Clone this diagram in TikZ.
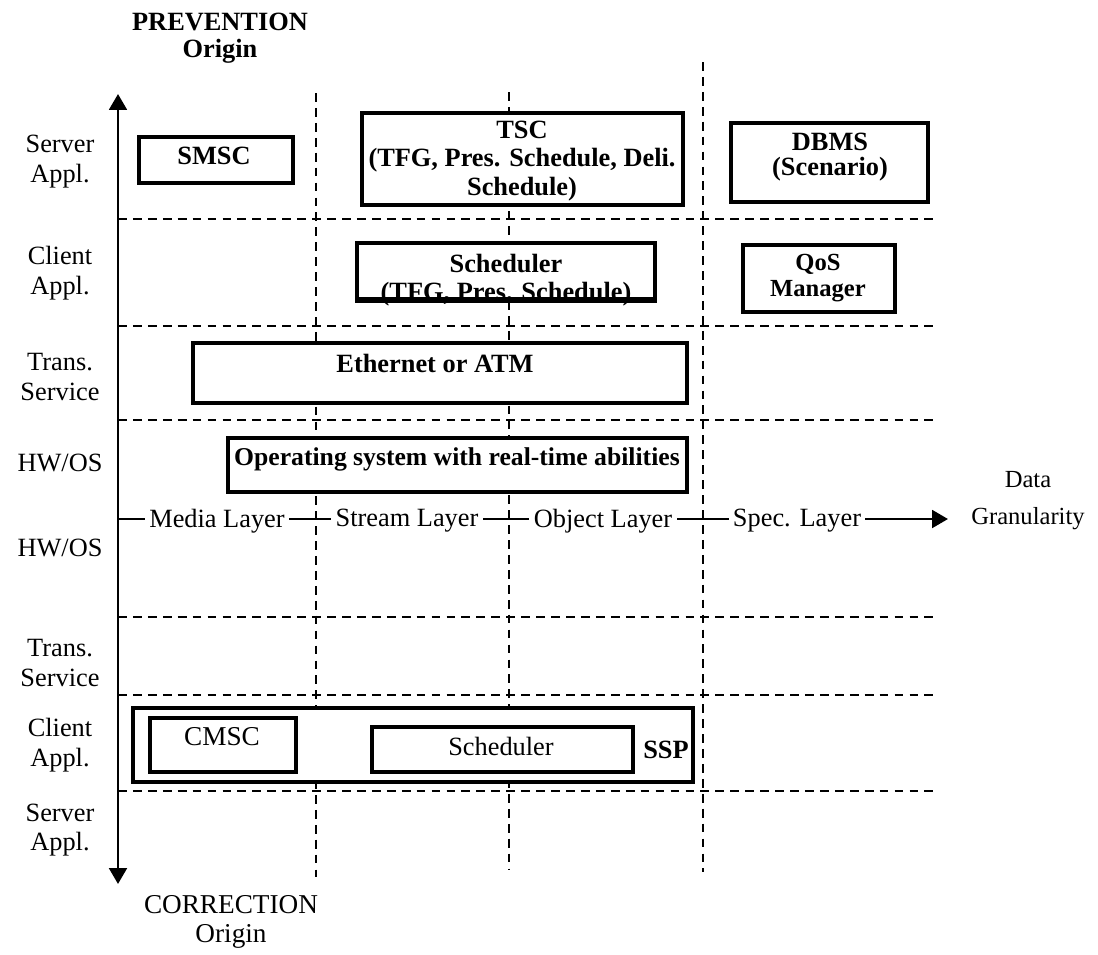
\documentclass[tikz,border=0pt]{standalone}
\usepackage{fontspec}
\setmainfont{Liberation Serif}
\usetikzlibrary{arrows.meta,fit}
\begin{document}
\begin{tikzpicture}[x=0.02cm,y=-0.02cm,
  grid/.style={line width=1.5pt, dash pattern=on 5pt off 3.5pt},
  box/.style={draw, line width=2.1pt, fill=white, inner sep=0pt},
  side/.style={align=center, font=\fontsize{15}{17}\selectfont, inner sep=0pt},
  boxtxt/.style={align=center, font=\fontsize{15}{16}\selectfont\bfseries, inner sep=0pt},
  plaintxt/.style={align=center, font=\fontsize{15}{16}\selectfont, inner sep=0pt},
  axlbl/.style={fill=white, inner sep=2.5pt, font=\fontsize{15}{17}\selectfont},
  axis/.style={line width=1.6pt},
  tip/.style={-{Triangle[length=9pt,width=10pt]}},
]
\useasboundingbox (0,0) rectangle (1098,954);

% layer separators
\foreach \y in {219,326,420,617,695,791}
  \draw[grid] (118,\y) -- (938,\y);

% granularity separators
\draw[grid] (316,93) -- (316,877);
\draw[grid] (509,92) -- (509,870);
\draw[grid] (703,62) -- (703,872);

% axes
\coordinate (top) at (118,94);
\coordinate (bot) at (118,884);
\coordinate (o) at (118,519);
\coordinate (xend) at (948,519);
\draw[axis, {Triangle[length=9pt,width=10pt]}-{Triangle[length=9pt,width=10pt]}] (top) -- (bot);
\draw[axis, tip] (o) -- (xend);

% granularity labels on the horizontal axis
\node[axlbl] (media)  at (217,521) {Media Layer};
\node[axlbl] (stream) at (407,521) {Stream Layer};
\node[axlbl] (object) at (603,521) {Object Layer};
\node[axlbl] (spec)   at (797,521) {Spec. Layer};
\node[align=center, font=\fontsize{14}{21}\selectfont, inner sep=0pt] (gran) at (1028,501) {Data\\Granularity};

% axis ends
\node[align=center, font=\fontsize{15}{15.5}\selectfont\bfseries, inner sep=0pt] (prev) at (220,38) {PREVENTION\\Origin};
\node[align=center, font=\fontsize{15.5}{16.5}\selectfont, inner sep=0pt] (corr) at (231,922) {CORRECTION\\Origin};

% layer names
\node[side] (l1) at (60,162) {Server\\Appl.};
\node[side] (l2) at (60,273) {Client\\Appl.};
\node[side] (l3) at (60,377) {Trans.\\Service};
\node[side] (l4) at (60,463) {HW/OS};
\node[side] (l5) at (60,548) {HW/OS};
\node[side] (l6) at (60,663) {Trans.\\Service};
\node[side] (l7) at (60,745) {Client\\Appl.};
\node[side] (l8) at (60,830) {Server\\Appl.};

% prevention side components
\node[box, fit={(139,137) (293,183)}] (smsc) {};
\node[boxtxt] at (214,156) {SMSC};

\node[box, fit={(362,113) (683,205)}] (tsc) {};
\node[boxtxt, font=\fontsize{15}{16}\selectfont\bfseries] at (522,161) {TSC\\(TFG, Pres. Schedule, Deli.\\Schedule)};

\node[box, fit={(731,123) (928,202)}] (dbms) {};
\node[boxtxt, font=\fontsize{15}{14.5}\selectfont\bfseries] at (830,157) {DBMS\\(Scenario)};

\node[box, fit={(357,243) (655,299)}] (scheda) {};
\node[boxtxt] (schedatxt) at (506,280) {Scheduler\\(TFG, Pres. Schedule)};
\draw[line width=2.1pt] (scheda.south west) -- (scheda.south east);

\node[box, fit={(743,245) (895,312)}] (qos) {};
\node[boxtxt, font=\fontsize{14}{14.5}\selectfont\bfseries] at (818,278) {QoS\\Manager};

\node[box, fit={(193,343) (687,403)}] (net) {};
\node[boxtxt] at (435,363) {Ethernet or ATM};

\node[box, fit={(228,438) (687,492)}] (os) {};
\node[boxtxt, font=\fontsize{14.6}{16}\selectfont\bfseries] at (457,459) {Operating system with real-time abilities};

% correction side components
\node[box, fit={(133,708) (693,782)}] (ssp) {};
\node[boxtxt] at (666,750) {SSP};
\node[box, fit={(150,718) (296,772)}] (cmsc) {};
\node[plaintxt, font=\fontsize{15.5}{16}\selectfont] at (222,737) {CMSC};
\node[box, fit={(372,727) (633,772)}] (schedb) {};
\node[plaintxt] at (501,746) {Scheduler};
\end{tikzpicture}
\end{document}
